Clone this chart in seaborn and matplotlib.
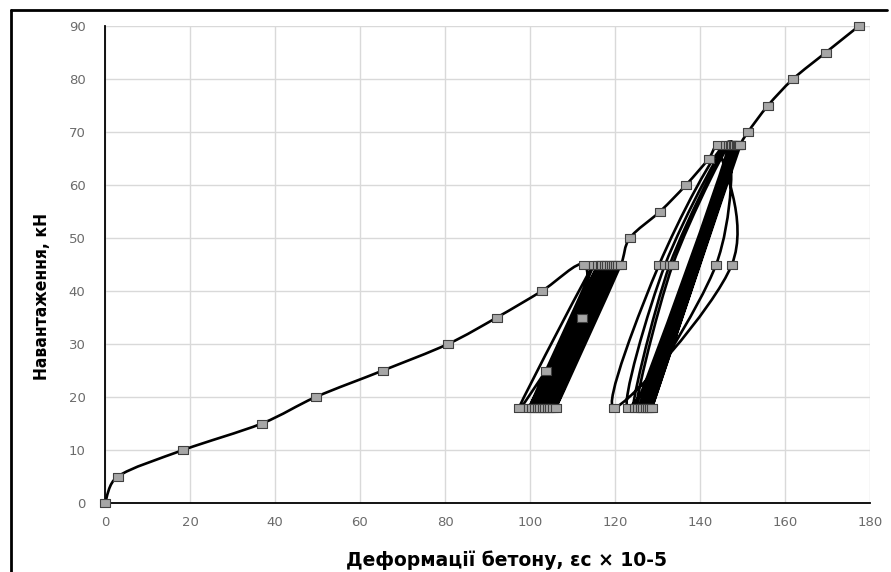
import numpy as np
import pandas as pd
import matplotlib
matplotlib.use("Agg")
import matplotlib.pyplot as plt
from matplotlib.path import Path
from matplotlib.patches import PathPatch
from matplotlib.lines import Line2D
from matplotlib import font_manager
import seaborn as sns

# ---- data: concrete strain (x 1e-5) and load (kN), in loading order ----
strain_initial = [0.0, 3.0, 18.4, 36.9, 49.6, 65.4, 80.7, 92.2, 102.8, 112.7]
load_initial = [0, 5, 10, 15, 20, 25, 30, 35, 40, 45]

strain_cycles_45 = [112.2, 103.8, 97.4, 115.0, 99.8, 116.0, 100.5, 116.6, 101.2, 117.0,
                    101.8, 117.6, 102.4, 118.0, 103.0, 118.8, 103.5, 119.3, 104.2, 119.8,
                    104.7, 120.3, 105.4, 120.7, 106.1, 121.4]
load_cycles_45 = [35, 25, 18, 45, 18, 45, 18, 45, 18, 45,
                  18, 45, 18, 45, 18, 45, 18, 45, 18, 45,
                  18, 45, 18, 45, 18, 45]

strain_reload = [123.5, 130.6, 136.7, 142.1, 144.2]
load_reload = [50, 55, 60, 65, 67.5]

strain_cycles_67 = [147.5, 119.8, 130.4, 146.1, 143.8, 123.1, 131.8, 146.8, 124.7, 132.9,
                    147.2, 125.4, 133.6, 147.5, 126.0, 148.0, 126.6, 148.3, 127.2, 148.6,
                    127.8, 148.9, 128.2, 149.2, 128.7, 149.5]
load_cycles_67 = [45, 18, 45, 67.5, 45, 18, 45, 67.5, 18, 45,
                  67.5, 18, 45, 67.5, 18, 67.5, 18, 67.5, 18, 67.5,
                  18, 67.5, 18, 67.5, 18, 67.5]

strain_final = [151.3, 156.0, 161.9, 169.6, 177.4]
load_final = [70, 75, 80, 85, 90]

x_ticks = [0, 20, 40, 60, 80, 100, 120, 140, 160, 180]
y_ticks = [0, 10, 20, 30, 40, 50, 60, 70, 80, 90]

strain = strain_initial + strain_cycles_45 + strain_reload + strain_cycles_67 + strain_final
load = load_initial + load_cycles_45 + load_reload + load_cycles_67 + load_final
df = pd.DataFrame({"strain": strain, "load": load})

sns.set_theme(style="whitegrid")
plt.rcParams["font.family"] = ["DejaVu Sans"]

installed = {f.name for f in font_manager.fontManager.ttflist}
if "Liberation Sans Narrow" in installed:
    ylab_font = dict(family=["Liberation Sans Narrow", "DejaVu Sans"], fontsize=14)
else:
    ylab_font = dict(family=["DejaVu Sans"], fontstretch="condensed", fontsize=12.5)

fig = plt.figure(figsize=(8.91, 5.72), dpi=100)
ax = fig.add_axes([105 / 891, 1 - 503 / 572, 765 / 891, 477 / 572])
ax.set_xlim(0, 180)
ax.set_ylim(0, 90)

# smoothed line (Excel-like Bezier through the data points, handles limited in screen space)
P = df[["strain", "load"]].to_numpy(dtype=float)
D = ax.transData.transform(P)
n = len(D)
verts = [D[0]]
codes = [Path.MOVETO]
ratio = 0.4
for i in range(n - 1):
    d0 = D[i - 1] if i > 0 else D[i]
    d1 = D[i]
    d2 = D[i + 1]
    d3 = D[i + 2] if i + 2 < n else D[i + 1]
    seg = np.hypot(*(d2 - d1))
    h1 = (d2 - d0) / 6.0
    h2 = (d3 - d1) / 6.0
    for h in (h1, h2):
        L = np.hypot(*h)
        if L > ratio * seg and L > 0:
            h *= ratio * seg / L
    verts += [d1 + h1, d2 - h2, d2]
    codes += [Path.CURVE4] * 3
verts_data = ax.transData.inverted().transform(np.array(verts))
ax.add_patch(PathPatch(Path(verts_data, codes), facecolor="none", edgecolor="black",
                       lw=1.9, zorder=3, capstyle="round", joinstyle="round"))

rect = [(-1.3, -1), (1.3, -1), (1.3, 1), (-1.3, 1), (-1.3, -1)]
sns.scatterplot(data=df, x="strain", y="load", ax=ax, marker=rect, s=55,
                color="#a6a6a6", edgecolor="#404040", linewidth=0.8, zorder=4,
                legend=False, clip_on=False)

ax.set_xticks(x_ticks)
ax.set_yticks(y_ticks)
ax.grid(True, color="#d9d9d9", lw=1.0)
for s in ["top", "right"]:
    ax.spines[s].set_visible(False)
for s in ["left", "bottom"]:
    ax.spines[s].set_visible(True)
    ax.spines[s].set_color("black")
    ax.spines[s].set_linewidth(1.3)
ax.tick_params(axis="both", colors="#6b6b6b", labelsize=9.5, length=0)
ax.tick_params(axis="x", pad=9)
ax.tick_params(axis="y", pad=14)

ax.set_xlabel("")
ax.set_ylabel("")
fig.text(507 / 891, 1 - 566 / 572, "Деформації бетону, εc × 10-5", ha="center", va="baseline",
         fontsize=13.5, fontweight="bold", color="black", family=["DejaVu Sans"])
fig.text(42 / 891, 1 - 296 / 572, "Навантаження, кН", ha="center", va="center",
         rotation=90, fontweight="bold", color="black", **ylab_font)

# outer frame lines (left and top)
fig.add_artist(Line2D([10.5 / 891, 10.5 / 891], [0, 1 - 10 / 572], transform=fig.transFigure,
                      color="black", lw=2.0))
fig.add_artist(Line2D([10.5 / 891, 887 / 891], [1 - 10 / 572, 1 - 10 / 572],
                      transform=fig.transFigure, color="black", lw=2.0))

fig.savefig("out.png", dpi=100)
